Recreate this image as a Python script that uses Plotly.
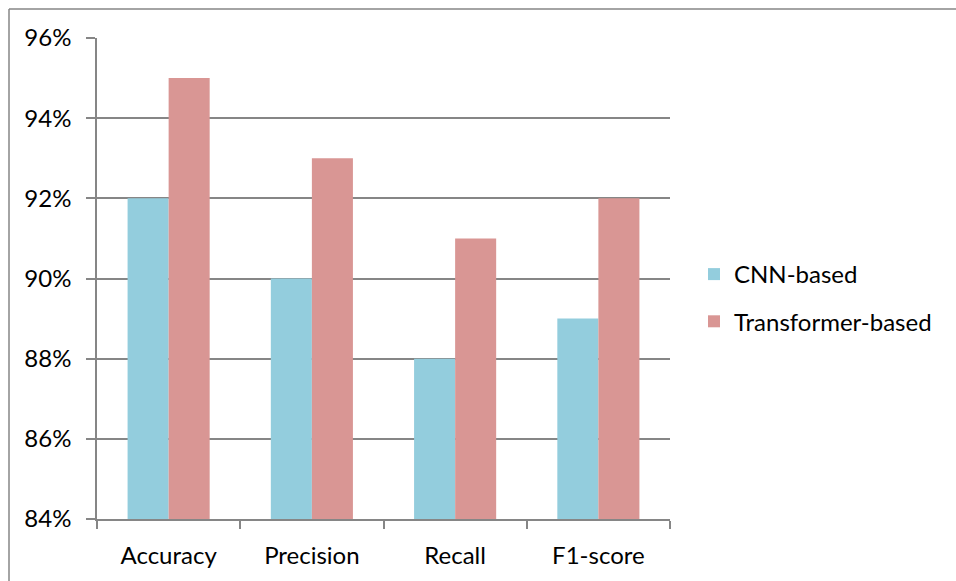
import plotly.graph_objects as go

categories = ["Accuracy", "Precision", "Recall", "F1-score"]
cnn_values = [0.92, 0.90, 0.88, 0.89]
transformer_values = [0.95, 0.93, 0.91, 0.92]
y_ticks = [0.84, 0.86, 0.88, 0.90, 0.92, 0.94, 0.96]
y_tick_labels = ["84%", "86%", "88%", "90%", "92%", "94%", "96%"]

W, H = 956, 581
L, R, T, B = 97, 286, 38, 62
pw, ph = W - L - R, H - T - B

FONT = "Lato"
FS = 24
GRAY = "#868686"

fig = go.Figure()
fig.add_trace(go.Bar(name="CNN-based", x=categories, y=cnn_values, legendgroup="a",
                     marker=dict(color="#93CDDD", line=dict(width=0))))
fig.add_trace(go.Bar(name="Transformer-based", x=categories, y=transformer_values, legendgroup="b",
                     marker=dict(color="#D99694", line=dict(width=0))))

def px_x(p):
    return (p - L) / pw

def px_y(p):
    return 1 - (p - T) / ph

fig.update_layout(
    width=W, height=H,
    margin=dict(l=L, r=R, t=T, b=B),
    paper_bgcolor="white", plot_bgcolor="white",
    barmode="group", bargap=0.427, bargroupgap=0,
    font=dict(family=FONT, size=FS, color="black"),
    showlegend=True,
    legend=dict(x=px_x(694), y=px_y(252), xanchor="left", yanchor="top",
                font=dict(family=FONT, size=FS, color="black"),
                itemwidth=30, tracegroupgap=13, bgcolor="rgba(0,0,0,0)"),
    xaxis=dict(type="category", tickson="boundaries", ticks="outside",
               ticklen=8, tickcolor=GRAY, tickwidth=1.5,
               showline=True, linecolor=GRAY, linewidth=1.5,
               showgrid=False, range=[-0.5, 3.5], ticklabelstandoff=14,
               tickfont=dict(family=FONT, size=FS, color="black")),
    yaxis=dict(range=[0.84, 0.96], tickvals=y_ticks, ticktext=y_tick_labels,
               ticks="outside", ticklen=9, tickcolor=GRAY, tickwidth=1.5,
               showline=True, linecolor=GRAY, linewidth=1.5,
               showgrid=True, gridcolor=GRAY, gridwidth=1.5,
               zeroline=False, ticklabelstandoff=10,
               tickfont=dict(family=FONT, size=FS, color="black")),
    shapes=[
        dict(type="line", xref="paper", yref="paper",
             x0=px_x(9), x1=px_x(960), y0=px_y(9), y1=px_y(9),
             line=dict(color=GRAY, width=1.5)),
        dict(type="line", xref="paper", yref="paper",
             x0=px_x(9), x1=px_x(9), y0=px_y(9), y1=px_y(590),
             line=dict(color=GRAY, width=1.5)),
    ],
)

fig.write_html("out.html", config={"displayModeBar": False},
               post_script="document.body.style.margin='0';document.body.style.overflow='hidden';")
